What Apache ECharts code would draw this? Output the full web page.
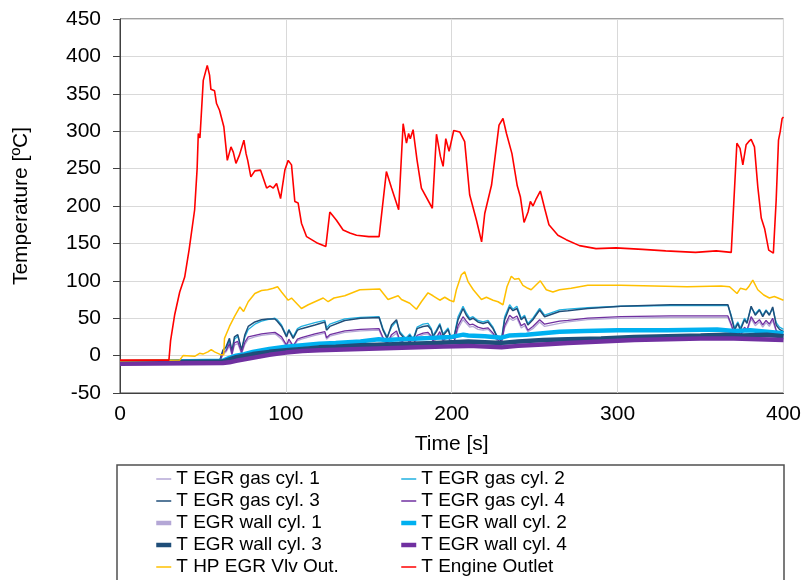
<!DOCTYPE html>
<html>
<head>
<meta charset="utf-8">
<script src="https://cdn.jsdelivr.net/npm/echarts@6/dist/echarts.min.js"></script>
<style>
    html, body { margin: 0; padding: 0; background: #fff; }
    #chart { width: 804px; height: 580px; }
</style>
</head>
<body>
<div id="chart"></div>
<script>
// [time s, temperature ºC] pairs
var gasCyl1 = [[0,-11],[60,-10],[62,1],[64,5],[66,13],[67.5,0],[69,14],[71,16],[73.3,2],[75.3,15],[77.3,22],[81.3,25],[85.3,27],[89,28],[93.4,29],[94.8,27],[97.4,22],[100.4,12],[101.8,19],[104.4,11],[107,20],[109.4,22],[117.5,27],[123.5,30],[124.5,22],[126.5,26],[135.5,31],[145,33],[156.2,34],[158.6,22],[161,14],[163.7,25],[166.7,30],[168.7,19],[170.7,16],[172.3,13],[174.7,18],[176.7,12],[179.1,24],[182.7,28],[185.7,29],[187.7,24],[188.7,17],[190.7,22],[192.8,29],[194.8,18],[197.8,25],[199.2,17],[201.2,15],[203.8,36],[206.8,48],[208.8,43],[210.8,38],[212.8,39],[215.8,35],[218.9,34],[221.9,35],[224.9,28],[226.9,21],[229.9,16],[231.9,37],[234.9,50],[236.9,47],[239.3,50],[241.9,37],[243.9,40],[245.9,32],[248.9,36],[253,45],[256,39],[265,43],[270,45],[282,48],[302,50],[332,51],[366.5,51],[368.5,40],[370.5,26],[372.5,32],[374,25],[376.5,35],[378,32],[380.5,49],[383,40],[385.5,45],[387.5,38],[389.5,44],[391.5,39],[393.5,47],[395.6,32],[397.6,27],[400,26]];
var gasCyl2 = [[0,-8],[60,-7],[62,6],[64,10],[66,20],[67.5,6],[69,22],[71,26],[73.3,8],[75.3,25],[77.3,35],[81.3,42],[85.3,46],[89,48],[93.4,50],[94.8,48],[97.4,41],[100.4,27],[101.8,35],[104.4,25],[107,36],[109.4,39],[117.5,44],[123.5,47],[124.5,37],[126.5,42],[135.5,49],[145,51],[156.2,52],[158.6,36],[161,25],[163.7,38],[166.7,46],[168.7,32],[170.7,27],[172.3,23],[174.7,29],[176.7,22],[179.1,38],[182.7,42],[185.7,43],[187.7,36],[188.7,27],[190.7,34],[192.8,43],[194.8,29],[197.8,37],[199.2,27],[201.2,24],[203.8,52],[206.8,66],[208.8,57],[210.8,50],[212.8,52],[215.8,47],[218.9,45],[221.9,47],[224.9,38],[226.9,28],[229.9,20],[231.9,52],[234.9,68],[236.9,62],[239.3,66],[241.9,50],[243.9,54],[245.9,43],[248.9,50],[253,63],[256,54],[265,61],[270,62],[282,64],[302,66],[332,67],[366.5,67],[368.5,54],[370.5,37],[372.5,45],[374,37],[376.5,50],[378,45],[380.5,64],[383,56],[385.5,62],[387.5,54],[389.5,61],[391.5,55],[393.5,63],[395.6,44],[397.6,38],[400,35]];
var gasCyl3 = [[0,-9],[60,-8],[62,7],[64,12],[66,23],[67.5,5],[69,25],[71,28],[73.3,7],[75.3,28],[77.3,39],[81.3,45],[85.3,48],[89,49],[93.4,49],[94.8,46],[97.4,39],[100.4,25],[101.8,34],[104.4,23],[107,34],[109.4,36],[117.5,41],[123.5,45],[124.5,34],[126.5,39],[135.5,47],[145,50],[156.2,51],[158.6,34],[161,23],[163.7,41],[166.7,48],[168.7,30],[170.7,25],[172.3,21],[174.7,27],[176.7,20],[179.1,36],[182.7,39],[185.7,40],[187.7,34],[188.7,25],[190.7,32],[192.8,41],[194.8,27],[197.8,35],[199.2,25],[201.2,23],[203.8,48],[206.8,63],[208.8,54],[210.8,48],[212.8,50],[215.8,45],[218.9,43],[221.9,45],[224.9,36],[226.9,27],[229.9,19],[231.9,48],[234.9,65],[236.9,60],[239.3,63],[241.9,48],[243.9,52],[245.9,41],[248.9,48],[253,61],[256,52],[265,59],[270,60],[282,63],[302,66],[332,68],[366.5,68],[368.5,52],[370.5,34],[372.5,43],[374,34],[376.5,48],[378,43],[380.5,66],[383,54],[385.5,61],[387.5,52],[389.5,60],[391.5,54],[393.5,65],[395.6,41],[397.6,35],[400,32]];
var gasCyl4 = [[0,-10],[60,-9],[62,3],[64,7],[66,16],[67.5,2],[69,17],[71,19],[73.3,4],[75.3,18],[77.3,25],[81.3,27],[85.3,29],[89,30],[93.4,31],[94.8,29],[97.4,25],[100.4,14],[101.8,22],[104.4,13],[107,22],[109.4,24],[117.5,29],[123.5,32],[124.5,24],[126.5,28],[135.5,33],[145,35],[156.2,36],[158.6,24],[161,16],[163.7,28],[166.7,33],[168.7,21],[170.7,18],[172.3,15],[174.7,20],[176.7,14],[179.1,27],[182.7,30],[185.7,31],[187.7,26],[188.7,19],[190.7,24],[192.8,32],[194.8,20],[197.8,27],[199.2,19],[201.2,17],[203.8,40],[206.8,52],[208.8,46],[210.8,41],[212.8,42],[215.8,38],[218.9,36],[221.9,37],[224.9,30],[226.9,23],[229.9,17],[231.9,40],[234.9,54],[236.9,50],[239.3,53],[241.9,40],[243.9,43],[245.9,34],[248.9,39],[253,48],[256,42],[265,46],[270,47],[282,50],[302,52],[332,53],[366.5,53],[368.5,42],[370.5,28],[372.5,34],[374,27],[376.5,38],[378,34],[380.5,52],[383,43],[385.5,48],[387.5,41],[389.5,47],[391.5,42],[393.5,50],[395.6,34],[397.6,29],[400,28]];
var wallCyl1 = [[0,-10],[62,-9],[70,-5],[80,-1],[90,3],[100,6],[115,8],[130,10],[150,11],[170,13],[190,14],[210,15],[230,14],[250,17],[270,19],[300,22],[330,24],[360,25],[380,25],[400,24]];
var wallCyl2 = [[0,-9],[62,-7],[66,-3],[70,0],[75,2],[80,5],[90,9],[100,12],[110,14],[120,16],[130,17],[145,19],[156,22],[160,21],[170,22],[180,23],[190,24],[200,25],[207,28],[210,27],[220,26],[230,24],[235,27],[245,28],[255,30],[265,32],[280,33],[300,34],[330,34],[360,35],[370,33],[380,34],[390,32],[400,30]];
var wallCyl3 = [[0,-9],[62,-8],[66,-5],[70,-2],[80,2],[90,5],[100,7],[110,9],[120,11],[130,12],[145,14],[160,15],[175,16],[190,17],[200,18],[210,19],[220,18],[230,17],[240,19],[255,21],[270,22],[290,23],[310,25],[330,26],[350,27],[365,28],[375,27],[390,28],[400,26]];
var wallCyl4 = [[0,-11],[62,-10],[66,-9],[70,-7],[80,-3],[90,1],[100,4],[110,6],[120,7],[135,8],[150,9],[165,10],[180,11],[195,12],[210,13],[220,12],[230,11],[240,13],[255,15],[270,17],[290,19],[310,21],[330,22],[350,23],[370,23],[385,22],[400,21]];
var hpEgrVlvOut = [[0,-7],[36,-6],[38,0],[45,-1],[48,3],[50,2],[53,5],[55,8],[57,5],[61,1],[62.5,1],[63,23],[66,39],[69,52],[72.3,65],[74.5,59],[77.3,72],[81.3,83],[85.3,87],[89,88],[92.4,90],[95,92],[97.4,85],[101.4,74],[103.4,77],[106.4,70],[109.4,63],[113.5,68],[117.5,72],[122.5,77],[125.5,72],[129,77],[135.5,80],[144.6,88],[156.6,89],[161.6,75],[167.7,80],[169.7,75],[174.7,70],[178.7,62],[181.7,72],[185.7,84],[188.7,80],[192.8,74],[195.8,78],[198.8,74],[201.2,72],[202.8,88],[205.8,108],[207.8,112],[209.8,99],[213,88],[217.9,75],[220.9,78],[224.9,74],[227.9,72],[230.9,68],[233.3,92],[235.9,106],[237.9,102],[240.5,103],[242.9,94],[245.9,90],[247.9,88],[253.4,100],[257,88],[261,85],[265,88],[272,90],[282,94],[302,94],[322,93],[342,92],[362.4,93],[367.5,92],[372,83],[374,90],[377.5,88],[379,92],[381.5,101],[384.5,88],[388.1,81],[391.5,77],[394.5,79],[400,74]];
var engineOutlet = [[0,-6],[29.5,-6],[30.5,20],[33,55],[36,85],[39,105],[41.7,142],[45,195],[46.5,250],[47.2,297],[48.2,291],[50.2,368],[51.2,370],[52.6,388],[54,375],[54.8,356],[57,354],[58.2,337],[60,328],[62.6,306],[64.7,261],[66.9,279],[68.3,272],[69.9,257],[72,268],[74.7,288],[76,270],[77,261],[78.9,239],[81.3,247],[84.7,248],[88.4,224],[90.4,227],[92.4,224],[94.4,230],[96.8,210],[99.4,248],[101.4,261],[103.4,255],[105.4,206],[107.4,204],[109.4,177],[112.5,159],[118.5,151],[124.1,146],[126.5,192],[130.5,181],[134.5,168],[138.6,164],[142.6,161],[150,159],[156.2,159],[160.6,246],[163.7,224],[168,195],[170.7,310],[172.7,284],[174,297],[175,290],[176.7,302],[179.1,261],[181.7,224],[188.3,197],[190.8,296],[193.2,266],[194.8,253],[196.4,290],[198.4,273],[201.2,301],[204.8,299],[207.8,286],[210.8,215],[214.9,181],[218,152],[219.9,190],[224,228],[228.5,308],[230.9,317],[233,297],[236.3,270],[239.5,227],[241.4,212],[243.6,178],[246,192],[247.4,206],[249,200],[251,210],[253.4,220],[256,197],[258.6,175],[264,161],[269,155],[277,147],[287,143],[299,144],[315,142],[329,140],[347,138],[359.4,140],[368.5,138],[371.9,284],[373.8,277],[375.5,255],[377.5,282],[379,286],[380.5,289],[382.5,279],[384.5,226],[386.6,184],[388.6,170],[391.1,141],[393.9,137],[395.6,208],[397,288],[398,299],[399.2,317],[400,319]];

var seriesNames = ['T EGR gas cyl. 1', 'T EGR gas cyl. 2', 'T EGR gas cyl. 3', 'T EGR gas cyl. 4',
    'T EGR wall cyl. 1', 'T EGR wall cyl. 2', 'T EGR wall cyl. 3', 'T EGR wall cyl. 4',
    'T HP EGR Vlv Out.', 'T Engine Outlet'];
var seriesData = [gasCyl1, gasCyl2, gasCyl3, gasCyl4, wallCyl1, wallCyl2, wallCyl3, wallCyl4, hpEgrVlvOut, engineOutlet];
var seriesColors = ['#b4a7d6', '#21b0e0', '#1f4e79', '#7030a0', '#b4a7d6', '#00b0f0', '#1f4e79', '#7030a0', '#ffc000', '#ff0000'];
var seriesWidths = [1.3, 1.3, 1.5, 1.3, 4.5, 4.5, 4.5, 4.5, 1.5, 1.6];

var font = '"Liberation Sans", Arial, sans-serif';

var chart = echarts.init(document.getElementById('chart'), null, {renderer: 'canvas'});

var series = seriesNames.map(function (name, i) {
    return {
        name: name,
        type: 'line',
        data: seriesData[i],
        symbol: 'none',
        animation: false,
        itemStyle: {color: seriesColors[i]},
        lineStyle: {color: seriesColors[i], width: seriesWidths[i]}
    };
});

// two legend columns inside one framed box, like the excel legend
function legendColumn(left, idx) {
    return {
        orient: 'vertical',
        left: left,
        top: 469,
        padding: 0,
        itemGap: 2,
        itemWidth: 15,
        itemHeight: 14,
        itemStyle: {opacity: 0},
        textStyle: {color: '#000', fontSize: 19, lineHeight: 20, fontFamily: font},
        data: idx.map(function (i) {
            // legend key keeps the thick/thin look of its line
            return {
                name: seriesNames[i],
                lineStyle: {color: seriesColors[i], width: seriesWidths[i] > 3 ? 4.5 : 1.5}
            };
        })
    };
}

var options = {
    backgroundColor: '#fff',
    animation: false,
    textStyle: {fontFamily: font},
    grid: {
        left: 120, right: 20, top: 19, bottom: 187,
        show: true, borderColor: '#404040', borderWidth: 1
    },
    legend: [
        legendColumn(154, [0, 2, 4, 6, 8]),
        legendColumn(399, [1, 3, 5, 7, 9])
    ],
    graphic: [{
        type: 'rect',
        shape: {x: 117, y: 465, width: 667, height: 140},
        style: {fill: 'none', stroke: '#505050', lineWidth: 1.5},
        z: -1
    }],
    xAxis: {
        type: 'value',
        min: 0, max: 400, interval: 100,
        name: 'Time [s]',
        nameLocation: 'middle',
        nameGap: 41,
        nameTextStyle: {color: '#000', fontSize: 21, fontFamily: font},
        axisLine: {show: true, onZero: false, lineStyle: {color: '#404040', width: 1}},
        axisTick: {show: false},
        axisLabel: {color: '#000', fontSize: 21, margin: 11, fontFamily: font},
        splitLine: {show: true, lineStyle: {color: '#d9d9d9', width: 1}}
    },
    yAxis: {
        type: 'value',
        min: -50, max: 450, interval: 50,
        name: 'Temperature [ºC]',
        nameLocation: 'middle',
        nameGap: 88,
        nameRotate: 90,
        nameTextStyle: {color: '#000', fontSize: 21, fontFamily: font},
        axisLine: {show: true, onZero: false, lineStyle: {color: '#404040', width: 1}},
        axisTick: {show: true, length: 7, lineStyle: {color: '#404040'}},
        axisLabel: {color: '#000', fontSize: 21, margin: 19, fontFamily: font},
        splitLine: {show: true, lineStyle: {color: '#d9d9d9', width: 1}}
    },
    series: series
};
chart.setOption(options);
</script>
</body>
</html>
